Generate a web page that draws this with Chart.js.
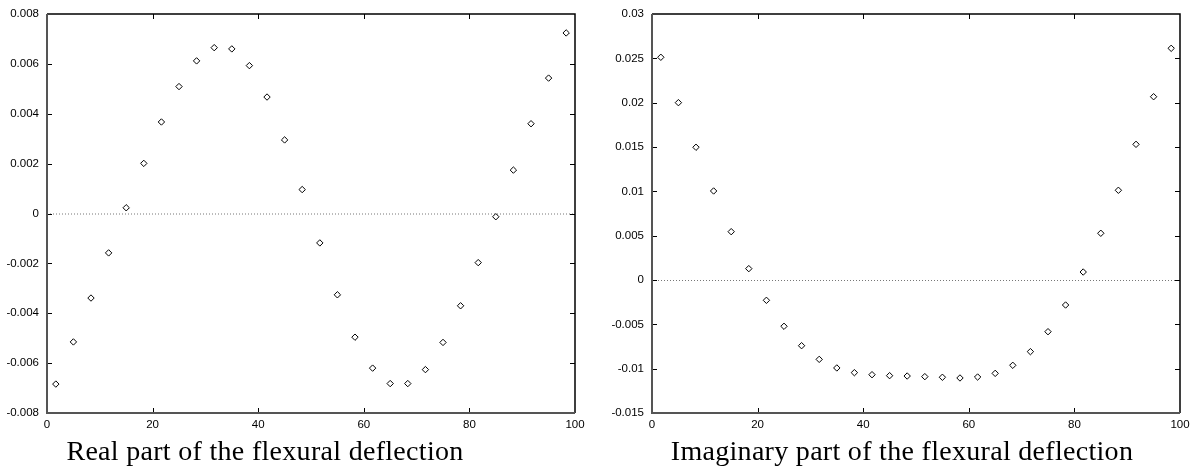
<!DOCTYPE html>
<html>
<head>
<meta charset="utf-8">
<script src="https://cdn.jsdelivr.net/npm/chart.js@4.4.1/dist/chart.umd.min.js"></script>
<style>
  html, body { margin: 0; padding: 0; background: #fff; }
  body { width: 1199px; height: 474px; position: relative; overflow: hidden; }
  .box { position: absolute; top: 0; height: 440px; }
  .caption { position: absolute; top: 437px; font-family: "Liberation Serif", serif; font-size: 28px; letter-spacing: 0.3px; line-height: 1; white-space: nowrap; transform: translateX(-50%); color: #000; }
</style>
</head>
<body>
<div class="box" style="left:0; width:600px;"><canvas id="realChart"></canvas></div>
<div class="box" style="left:600px; width:599px;"><canvas id="imagChart"></canvas></div>
<div class="caption" style="left:265px;">Real part of the flexural deflection</div>
<div class="caption" style="left:902px;">Imaginary part of the flexural deflection</div>
<script>
// positions along the plate
var xValues = [1.67, 5, 8.33, 11.67, 15, 18.33, 21.67, 25, 28.33, 31.67,
               35, 38.33, 41.67, 45, 48.33, 51.67, 55, 58.33, 61.67, 65,
               68.33, 71.67, 75, 78.33, 81.67, 85, 88.33, 91.67, 95, 98.33];

var realValues = [-0.00684, -0.00515, -0.00339, -0.00158, 0.00023, 0.00201, 0.00367, 0.00509, 0.00612, 0.00665,
                  0.0066, 0.00593, 0.00467, 0.00295, 0.00096, -0.00118, -0.00326, -0.00496, -0.0062, -0.00682,
                  -0.00682, -0.00626, -0.00517, -0.0037, -0.00197, -0.00013, 0.00174, 0.0036, 0.00543, 0.00724];

var imagValues = [0.02512, 0.0200, 0.01497, 0.01004, 0.00545, 0.00128, -0.00229, -0.00522, -0.00741, -0.00895,
                  -0.00992, -0.01045, -0.01068, -0.01079, -0.01083, -0.0109, -0.01097, -0.01105, -0.01094, -0.01053,
                  -0.00962, -0.00808, -0.00583, -0.00282, 0.0009, 0.00527, 0.01012, 0.0153, 0.02067, 0.02613];

var xTicks = [0, 20, 40, 60, 80, 100];
var realTicks = [-0.008, -0.006, -0.004, -0.002, 0, 0.002, 0.004, 0.006, 0.008];
var imagTicks = [-0.015, -0.01, -0.005, 0, 0.005, 0.01, 0.015, 0.02, 0.025, 0.03];

var tickFont = { family: "'Liberation Sans', Arial, sans-serif", size: 11.5 };

// gnuplot style frame: inward ticks on all sides and a dotted zero line
var framePlugin = {
  id: 'frame',
  beforeDatasetsDraw: function(chart) {
    var ctx = chart.ctx, a = chart.chartArea, y0 = chart.scales.y.getPixelForValue(0);
    ctx.save();
    ctx.strokeStyle = '#777';
    ctx.lineWidth = 1;
    ctx.setLineDash([1, 2]);
    ctx.beginPath();
    ctx.moveTo(a.left, y0 + 0.5);
    ctx.lineTo(a.right, y0 + 0.5);
    ctx.stroke();
    ctx.restore();
  },
  afterDraw: function(chart) {
    var ctx = chart.ctx, a = chart.chartArea, xs = chart.scales.x, ys = chart.scales.y;
    var len = 5;
    ctx.save();
    ctx.strokeStyle = '#000';
    ctx.lineWidth = 1;
    ctx.beginPath();
    xs.ticks.forEach(function(t, i) {
      if (i === 0 || i === xs.ticks.length - 1) return;
      var px = Math.round(xs.getPixelForValue(t.value)) + 0.5;
      ctx.moveTo(px, a.top); ctx.lineTo(px, a.top + len);
      ctx.moveTo(px, a.bottom); ctx.lineTo(px, a.bottom - len);
    });
    ys.ticks.forEach(function(t, i) {
      if (i === 0 || i === ys.ticks.length - 1) return;
      var py = Math.round(ys.getPixelForValue(t.value)) + 0.5;
      ctx.moveTo(a.left, py); ctx.lineTo(a.left + len, py);
      ctx.moveTo(a.right, py); ctx.lineTo(a.right - len, py);
    });
    ctx.stroke();
    // top and right border
    ctx.lineWidth = 1.5;
    ctx.beginPath();
    ctx.moveTo(a.left, a.top); ctx.lineTo(a.right, a.top); ctx.lineTo(a.right, a.bottom);
    ctx.stroke();
    // left and bottom border
    ctx.strokeStyle = '#555';
    ctx.lineWidth = 2;
    ctx.beginPath();
    ctx.moveTo(a.left, a.top); ctx.lineTo(a.left, a.bottom); ctx.lineTo(a.right, a.bottom);
    ctx.stroke();
    ctx.restore();
  }
};

function makePlot(canvasId, values, yTicks, yAxisWidth, rightPad) {
  var points = values.map(function(v, i) { return { x: xValues[i], y: v }; });
  return new Chart(document.getElementById(canvasId), {
    type: 'scatter',
    data: {
      datasets: [{
        data: points,
        pointStyle: 'rectRot',
        pointRadius: 3.2,
        pointBorderWidth: 1,
        pointBorderColor: '#000',
        pointBackgroundColor: '#fff',
        pointHoverRadius: 3.2
      }]
    },
    options: {
      responsive: true,
      maintainAspectRatio: false,
      animation: false,
      events: [],
      layout: { padding: { top: 14, right: rightPad, left: 0, bottom: 0 } },
      plugins: { legend: { display: false }, tooltip: { enabled: false } },
      scales: {
        x: {
          type: 'linear',
          min: xTicks[0],
          max: xTicks[xTicks.length - 1],
          afterBuildTicks: function(s) { s.ticks = xTicks.map(function(v) { return { value: v }; }); },
          grid: { display: false, drawTicks: false },
          border: { display: false },
          ticks: { color: '#000', font: tickFont, padding: 5, maxRotation: 0, autoSkip: false },
          afterFit: function(s) { s.height = 27; s.paddingLeft = 0; s.paddingRight = 0; }
        },
        y: {
          type: 'linear',
          min: yTicks[0],
          max: yTicks[yTicks.length - 1],
          afterBuildTicks: function(s) { s.ticks = yTicks.map(function(v) { return { value: v }; }); },
          grid: { display: false, drawTicks: false },
          border: { display: false },
          ticks: {
            color: '#000', font: tickFont, padding: 8, autoSkip: false,
            callback: function(v) { return String(Number(v.toFixed(4))); }
          },
          afterFit: function(s) { s.width = yAxisWidth; s.paddingTop = 0; s.paddingBottom = 0; }
        }
      }
    },
    plugins: [framePlugin]
  });
}

makePlot('realChart', realValues, realTicks, 47, 25);
makePlot('imagChart', imagValues, imagTicks, 52, 19);
</script>
</body>
</html>
